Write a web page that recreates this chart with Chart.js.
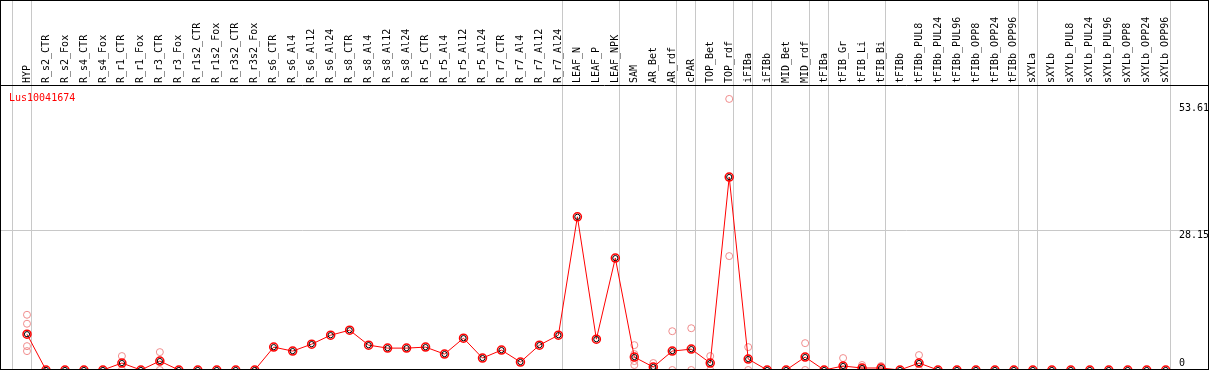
<!DOCTYPE html>
<html lang="en">
<head>
  <meta charset="UTF-8" />
  <title>Lus10041674</title>
  <script src="https://cdn.jsdelivr.net/npm/chart.js"></script>
  <style>
    html, body { margin: 0; padding: 0; background: #fff; }
    #wrap { width: 1209px; height: 370px; }
  </style>
</head>
<body>
  <div id="wrap"><canvas id="geneChart"></canvas></div>

  <script>
    const geneName = "Lus10041674";

    const categories = [
      "HYP", "R_s2_CTR", "R_s2_Fox", "R_s4_CTR", "R_s4_Fox", "R_r1_CTR", "R_r1_Fox",
      "R_r3_CTR", "R_r3_Fox", "R_r1s2_CTR", "R_r1s2_Fox", "R_r3s2_CTR", "R_r3s2_Fox",
      "R_s6_CTR", "R_s6_Al4", "R_s6_Al12", "R_s6_Al24", "R_s8_CTR", "R_s8_Al4", "R_s8_Al12",
      "R_s8_Al24", "R_r5_CTR", "R_r5_Al4", "R_r5_Al12", "R_r5_Al24", "R_r7_CTR", "R_r7_Al4",
      "R_r7_Al12", "R_r7_Al24", "LEAF_N", "LEAF_P", "LEAF_NPK", "SAM", "AR_Bet", "AR_rdf",
      "cPAR", "TOP_Bet", "TOP_rdf", "iFIBa", "iFIBb", "MID_Bet", "MID_rdf", "tFIBa",
      "tFIB_Gr", "tFIB_Li", "tFIB_Bi", "tFIBb", "tFIBb_PUL8", "tFIBb_PUL24", "tFIBb_PUL96",
      "tFIBb_OPP8", "tFIBb_OPP24", "tFIBb_OPP96", "sXYLa", "sXYLb", "sXYLb_PUL8",
      "sXYLb_PUL24", "sXYLb_PUL96", "sXYLb_OPP8", "sXYLb_OPP24", "sXYLb_OPP96"
    ];

    // mean expression per sample
    const means = [
      7.2, 0, 0, 0, 0, 1.4, 0, 1.8, 0, 0, 0, 0, 0,
      4.6, 3.8, 5.2, 7.0, 8.0, 5.0, 4.4, 4.4, 4.6, 3.2, 6.4, 2.4, 4.0, 1.6, 5.0, 7.0,
      30.8, 6.2, 22.5, 2.6, 0.6, 3.8, 4.2, 1.4, 38.8, 2.2, 0, 0, 2.6, 0,
      0.8, 0.4, 0.4, 0, 1.4, 0, 0, 0, 0, 0, 0, 0, 0, 0, 0, 0, 0, 0
    ];

    // individual replicates (only where they show apart from the mean)
    const replicates = {
      "HYP": [11.1, 9.3, 4.8, 3.8],
      "R_r1_CTR": [2.8, 0],
      "R_r3_CTR": [3.6, 0],
      "SAM": [5.0, 3.2, 1.8, 1.0],
      "AR_Bet": [1.4, 0],
      "AR_rdf": [7.8, 0],
      "cPAR": [8.4, 0],
      "TOP_Bet": [2.8, 0],
      "TOP_rdf": [54.5, 22.9],
      "iFIBa": [4.6, 0],
      "MID_rdf": [5.4, 0],
      "tFIB_Gr": [2.4, 0, 0],
      "tFIB_Li": [1.0, 0.2, 0],
      "tFIB_Bi": [0.8, 0],
      "tFIBb_PUL8": [3.0, 0]
    };

    // y tick labels shown at the right edge
    const yTickValues = [0, 28.15, 53.61];
    const yTickLabels = ["0", "28.15", "53.61"];

    // group separators sit just right of these sample indices
    const groupEnds = [-1, 0, 28, 31, 34, 35, 37, 38, 39, 41, 42, 45, 52, 53, 60];

    const meanPoints = means.map((v, i) => ({ x: i, y: v }));
    const repPoints = [];
    categories.forEach((c, i) => {
      (replicates[c] || []).forEach(v => repPoints.push({ x: i, y: v }));
    });

    const FONT = "DejaVu Sans Mono";

    const framePlugin = {
      id: "frame",
      beforeDatasetsDraw(chart) {
        const ctx = chart.ctx;
        const xs = chart.scales.x, ys = chart.scales.y;
        const area = chart.chartArea;
        ctx.save();
        ctx.strokeStyle = "#c8c8c8";
        ctx.lineWidth = 1;
        // horizontal grid at middle tick
        const gy = Math.round(ys.getPixelForValue(yTickValues[1])) + 0.5;
        ctx.beginPath();
        ctx.moveTo(0, gy);
        ctx.lineTo(chart.width, gy);
        ctx.stroke();
        // vertical group separators
        groupEnds.forEach(g => {
          const px = Math.round(xs.getPixelForValue(g + 0.2)) + 0.5;
          ctx.beginPath();
          ctx.moveTo(px, 0);
          ctx.lineTo(px, area.bottom);
          ctx.stroke();
        });
        ctx.restore();
      },
      afterDraw(chart) {
        const ctx = chart.ctx;
        const ys = chart.scales.y;
        ctx.save();
        // black frame and header divider
        ctx.strokeStyle = "#000";
        ctx.lineWidth = 1;
        ctx.strokeRect(0.5, 0.5, chart.width - 1, chart.height - 1);
        ctx.beginPath();
        ctx.moveTo(0, 85.5);
        ctx.lineTo(chart.width, 85.5);
        ctx.stroke();
        // gene title
        ctx.font = "10px '" + FONT + "'";
        ctx.fillStyle = "#ff0000";
        ctx.textAlign = "left";
        ctx.textBaseline = "alphabetic";
        ctx.fillText(geneName, 9, 101);
        // y tick labels
        ctx.fillStyle = "#000";
        yTickValues.forEach((v, k) => {
          const py = ys.getPixelForValue(v);
          if (v === 0) {
            ctx.textBaseline = "bottom";
            ctx.fillText(yTickLabels[k], 1179, py - 2);
          } else {
            ctx.textBaseline = "top";
            ctx.fillText(yTickLabels[k], 1179, py);
          }
        });
        ctx.restore();
      }
    };

    new Chart(document.getElementById("geneChart"), {
      type: "line",
      data: {
        datasets: [
          {
            type: "scatter",
            data: repPoints,
            showLine: false,
            pointRadius: 3.5,
            pointBorderWidth: 1,
            pointBorderColor: "rgb(240,140,140)",
            pointBackgroundColor: "rgba(0,0,0,0)",
            clip: false,
            order: 3
          },
          {
            data: meanPoints,
            borderColor: "#ff0000",
            borderWidth: 1,
            tension: 0,
            pointRadius: 4,
            pointBorderWidth: 1.5,
            pointBorderColor: "#ff0000",
            pointBackgroundColor: "rgba(0,0,0,0)",
            clip: false,
            order: 2
          },
          {
            type: "scatter",
            data: meanPoints,
            showLine: false,
            pointRadius: 2.6,
            pointBorderWidth: 1,
            pointBorderColor: "#000",
            pointBackgroundColor: "rgba(0,0,0,0)",
            clip: false,
            order: 1
          }
        ]
      },
      options: {
        responsive: true,
        maintainAspectRatio: false,
        animation: false,
        layout: { padding: 0, autoPadding: false },
        plugins: {
          legend: { display: false },
          tooltip: { enabled: false }
        },
        scales: {
          x: {
            type: "linear",
            position: "top",
            min: -1.4225,
            max: 62.28,
            afterFit: s => {
              s.height = 86;
              s.paddingLeft = 0; s.paddingRight = 0;
              s.paddingTop = 0; s.paddingBottom = 0;
            },
            afterBuildTicks: s => { s.ticks = categories.map((_, i) => ({ value: i })); },
            grid: { display: false, drawTicks: false },
            border: { display: false },
            ticks: {
              autoSkip: false,
              minRotation: 90,
              maxRotation: 90,
              padding: 3,
              labelOffset: 12,
              color: "#000",
              font: { family: FONT, size: 10 },
              callback: v => categories[v]
            }
          },
          y: {
            display: false,
            min: 0,
            max: 57.1
          }
        }
      },
      plugins: [framePlugin]
    });
  </script>
</body>
</html>
